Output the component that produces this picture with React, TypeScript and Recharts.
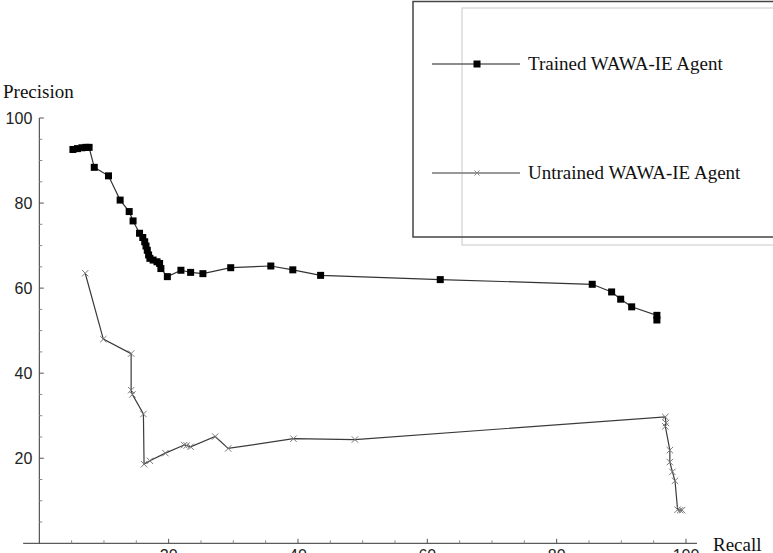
import React from 'react';
import {
  LineChart,
  Line,
  XAxis,
  YAxis,
  Legend,
  ReferenceLine,
} from 'recharts';

// Trained agent (recall %, precision %)
const trainedRecall = [
  5.2, 5.9, 6.6, 7.2, 7.7, 8.5, 10.7, 12.5, 13.9, 14.5, 15.5, 16.0, 16.3, 16.5,
  16.7, 16.9, 17.1, 17.6, 18.2, 18.6, 18.8, 19.8, 21.9, 23.4, 25.3, 29.6, 35.8,
  39.2, 43.5, 62.0, 85.5, 88.5, 89.9, 91.6, 95.5, 95.5,
];
const trainedPrecision = [
  92.6, 92.8, 93.0, 93.1, 93.1, 88.4, 86.4, 80.7, 78.0, 75.8, 72.9, 71.9, 70.9,
  69.9, 68.9, 67.8, 67.0, 66.6, 66.2, 65.8, 64.6, 62.7, 64.2, 63.7, 63.4, 64.8,
  65.2, 64.3, 63.0, 62.0, 60.9, 59.1, 57.4, 55.6, 53.6, 52.5,
];

// Untrained agent (recall %, precision %)
const untrainedRecall = [
  7.1, 9.9, 14.2, 14.2, 14.4, 16.1, 16.2, 17.1, 19.5, 22.4, 22.8, 23.4, 27.2,
  29.2, 39.3, 48.8, 96.8, 96.9, 96.8, 97.5, 97.5, 97.9, 98.3, 98.7, 99.1, 99.4,
];
const untrainedPrecision = [
  63.5, 48.0, 44.6, 36.0, 35.0, 30.4, 18.6, 19.4, 21.2, 23.1, 23.0, 22.7, 25.1,
  22.3, 24.6, 24.4, 29.7, 28.3, 27.5, 21.9, 19.1, 16.8, 14.7, 7.9, 7.8, 7.8,
];

const axisTicks = [5, 10, 15, 20, 25, 30, 35, 40, 45, 50, 55, 60, 65, 70, 75, 80, 85, 90, 95, 100];
const labelledTicks = [20, 40, 60, 80, 100];

const SERIES_NAMES = ['Trained WAWA-IE Agent', 'Untrained WAWA-IE Agent'];

const trainedData = trainedRecall.map((x, i) => ({ x, y: trainedPrecision[i] }));
const untrainedData = untrainedRecall.map((x, i) => ({ x, y: untrainedPrecision[i] }));

const NUM_FONT = '"Liberation Sans", Arial, sans-serif';
const TEXT_FONT = '"Liberation Serif", "Times New Roman", serif';

const SquareDot = (props: any) => {
  const { cx, cy, index } = props;
  if (cx == null || cy == null) return null;
  return <rect key={`sq-${index}`} x={cx - 3.5} y={cy - 3.5} width={7} height={7} fill="#000" />;
};

const CrossDot = (props: any) => {
  const { cx, cy, index } = props;
  if (cx == null || cy == null) return null;
  const s = 3.2;
  return (
    <g key={`x-${index}`} stroke="#7a7a7a" strokeWidth={1}>
      <line x1={cx - s} y1={cy - s} x2={cx + s} y2={cy + s} />
      <line x1={cx - s} y1={cy + s} x2={cx + s} y2={cy - s} />
    </g>
  );
};

const XTick = (props: any) => {
  const { x, y, payload } = props;
  const major = labelledTicks.includes(payload.value);
  return (
    <g>
      <line x1={x} y1={y} x2={x} y2={y - (major ? 4.5 : 3)} stroke={major ? '#555' : '#888'} strokeWidth={1} />
      {major && (
        <text x={x} y={y + 18} textAnchor="middle" fontFamily={NUM_FONT} fontSize={16} fill="#222">
          {payload.value}
        </text>
      )}
    </g>
  );
};

const YTick = (props: any) => {
  const { x, y, payload } = props;
  const major = labelledTicks.includes(payload.value);
  return (
    <g>
      <line x1={x} y1={y} x2={x + (major ? 4.5 : 3)} y2={y} stroke={major ? '#555' : '#888'} strokeWidth={1} />
      {major && (
        <text x={x - 7} y={y} dy="0.36em" textAnchor="end" fontFamily={NUM_FONT} fontSize={16} fill="#222">
          {payload.value}
        </text>
      )}
    </g>
  );
};

const LegendBox = () => (
  <svg width={361} height={253} style={{ display: 'block' }}>
    <rect x={50} y={8} width={400} height={237} fill="none" stroke="#c8c8c8" strokeWidth={1} />
    <rect x={1} y={1.5} width={400} height={235.5} fill="none" stroke="#444" strokeWidth={1.5} />
    <line x1={20} y1={64} x2={108} y2={64} stroke="#666" strokeWidth={1.5} />
    <rect x={61.5} y={60.5} width={7} height={7} fill="#000" />
    <text x={116} y={64} dy="0.33em" fontFamily={TEXT_FONT} fontSize={19} fill="#111">
      {SERIES_NAMES[0]}
    </text>
    <line x1={20} y1={173} x2={108} y2={173} stroke="#777" strokeWidth={1.5} />
    <g stroke="#888" strokeWidth={1}>
      <line x1={62.5} y1={170.5} x2={67.5} y2={175.5} />
      <line x1={62.5} y1={175.5} x2={67.5} y2={170.5} />
    </g>
    <text x={116} y={173} dy="0.33em" fontFamily={TEXT_FONT} fontSize={19} fill="#111">
      {SERIES_NAMES[1]}
    </text>
  </svg>
);

export default function App() {
  return (
    <div
      style={{
        position: 'absolute',
        left: 0,
        top: 0,
        width: 773,
        height: 553,
        overflow: 'hidden',
        background: '#fff',
      }}
    >
      <LineChart
        width={773}
        height={553}
        margin={{ top: 118, right: 87, left: 0, bottom: 0 }}
      >
        <XAxis
          type="number"
          dataKey="x"
          domain={[0, 100]}
          ticks={axisTicks}
          interval={0}
          axisLine={false}
          tickLine={false}
          tickSize={0}
          tickMargin={0}
          height={9.7}
          tick={<XTick />}
        />
        <YAxis
          type="number"
          dataKey="y"
          domain={[0, 100]}
          ticks={axisTicks}
          interval={0}
          width={39.3}
          axisLine={{ stroke: '#333', strokeWidth: 1 }}
          tickLine={false}
          tickSize={0}
          tickMargin={0}
          tick={<YTick />}
        />
        <ReferenceLine
          segment={[{ x: -2.5, y: 0 }, { x: 101.7, y: 0 }]}
          stroke="#333"
          strokeWidth={1}
          ifOverflow="visible"
        />
        <Legend
          layout="vertical"
          align="center"
          verticalAlign="middle"
          content={() => <LegendBox />}
          wrapperStyle={{ position: 'absolute', left: 412, top: 0, width: 361, height: 253 }}
        />
        <Line
          data={untrainedData}
          dataKey="y"
          name={SERIES_NAMES[1]}
          type="linear"
          stroke="#3a3a3a"
          strokeWidth={1.2}
          dot={<CrossDot />}
          activeDot={false}
          isAnimationActive={false}
        />
        <Line
          data={trainedData}
          dataKey="y"
          name={SERIES_NAMES[0]}
          type="linear"
          stroke="#333"
          strokeWidth={1.2}
          dot={<SquareDot />}
          activeDot={false}
          isAnimationActive={false}
        />
      </LineChart>
      <span
        style={{
          position: 'absolute',
          left: 3,
          top: 82,
          fontFamily: TEXT_FONT,
          fontSize: 19,
          lineHeight: '19px',
          color: '#111',
        }}
      >
        Precision
      </span>
      <span
        style={{
          position: 'absolute',
          left: 713,
          top: 535,
          fontFamily: TEXT_FONT,
          fontSize: 19,
          lineHeight: '19px',
          color: '#111',
        }}
      >
        Recall
      </span>
    </div>
  );
}
